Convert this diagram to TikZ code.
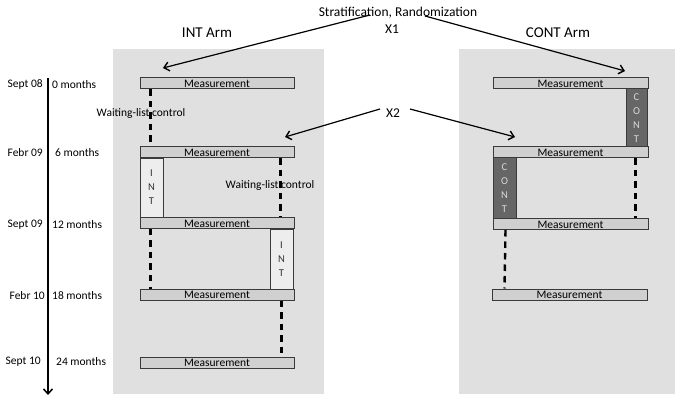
\documentclass[tikz,border=0pt]{standalone}
\usepackage{fontspec}
\setmainfont{Carlito}
\usetikzlibrary{arrows.meta}
\definecolor{panel}{HTML}{E0E0E0}
\definecolor{barfill}{HTML}{D0D0D0}
\definecolor{barline}{HTML}{3A3A3A}
\definecolor{intfill}{HTML}{EDEDED}
\definecolor{contfill}{HTML}{666666}
\tikzset{
  panelbox/.style={fill=panel, draw=none},
  meas/.style={draw=barline, fill=barfill, line width=1pt, minimum height=11pt, inner sep=0pt, text height=8.5pt, text depth=0pt, font=\fontsize{11.5}{11}\selectfont},
  intbox/.style={draw=barline, fill=intfill, line width=0.8pt, inner sep=0pt, align=center, font=\fontsize{10.5}{14}\selectfont, text=black!80},
  contbox/.style={draw=barline, fill=contfill, line width=1pt, inner sep=0pt, align=center, font=\fontsize{10.5}{14}\selectfont, text=white!85!black},
  wl/.style={line width=2.4pt, dash pattern=on 6.5pt off 5pt},
  lbl/.style={inner sep=0pt, font=\fontsize{11.5}{12}\selectfont},
  ttl/.style={inner sep=0pt, font=\fontsize{15}{16}\selectfont},
  rnd/.style={inner sep=0pt, font=\fontsize{13.5}{14}\selectfont},
  arr/.style={line width=1.2pt, -{Straight Barb[length=5pt,width=9pt,line width=1.4pt]}},
}
\begin{document}
\begin{tikzpicture}[x=1pt,y=-1pt]
\useasboundingbox (0,0) rectangle (685,403);
\fill[white] (0,0) rectangle (685,403);
% panels
\node[panelbox, minimum width=211pt, minimum height=345pt, inner sep=0pt] (PL) at (218.5,221.5) {};
\node[panelbox, minimum width=216pt, minimum height=345pt, inner sep=0pt] (PR) at (567,221.5) {};
% titles
\node[ttl] (tINT) at (207,33) {INT Arm};
\node[ttl] (tCONT) at (558,33) {CONT Arm};
\node[rnd] (strat) at (398,13) {Stratification, Randomization};
\node[rnd] (X1) at (392,29) {X1};
\node[rnd] (X2) at (393,113) {X2};
% left bars
\node[meas, minimum width=154pt] (L1) at (217,83.5) {Measurement};
\node[meas, minimum width=154pt] (L2) at (217,152.5) {Measurement};
\node[meas, minimum width=154pt] (L3) at (217,223) {Measurement};
\node[meas, minimum width=154pt] (L4) at (217,294.5) {Measurement};
\node[meas, minimum width=154pt] (L5) at (217,362.5) {Measurement};
% right bars
\node[meas, minimum width=155pt] (R1) at (570.5,83.5) {Measurement};
\node[meas, minimum width=155pt] (R2) at (570.5,152.5) {Measurement};
\node[meas, minimum width=155pt] (R3) at (570.5,224) {Measurement};
\node[meas, minimum width=155pt] (R4) at (569.5,294.5) {Measurement};
% INT boxes
\node[intbox, minimum width=23pt, minimum height=59pt] (I1) at (151.5,187.5) {I\\N\\T};
\node[intbox, minimum width=23pt, minimum height=60pt] (I2) at (281.5,259) {I\\N\\T};
% CONT boxes
\node[contbox, minimum width=21pt, minimum height=58pt] (C1) at (636.5,118) {C\\O\\N\\T};
\node[contbox, minimum width=23pt, minimum height=61pt] (C2) at (504.5,188.5) {C\\O\\N\\T};
% waiting list dashed lines
\draw[wl] ([xshift=11pt]L1.south west) -- ([xshift=11pt]L2.north west);
\draw[wl] ([xshift=-14pt]L2.south east) -- ([xshift=-14pt]L3.north east);
\draw[wl] ([xshift=11pt]L3.south west) -- ([xshift=11pt]L4.north west);
\draw[wl] ([xshift=-13pt]L4.south east) -- ([xshift=-13pt]L5.north east);
\draw[wl] ([xshift=-13pt]R2.south east) -- ([xshift=-13pt]R3.north east);
\draw[wl] ([xshift=13pt]R3.south west) -- ([xshift=13pt]R4.north west);
\node[lbl] (wl1) at (141,113) {Waiting-list control};
\node[lbl] (wl2) at (270,185) {Waiting-list control};
% randomization arrows
\coordinate (a1) at (163,68);
\coordinate (a2) at (625,71);
\coordinate (a3) at (285,137);
\coordinate (a4) at (515,137);
\draw[arr] ([xshift=-22pt,yshift=14pt]X1.center) -- (a1);
\draw[arr] ([xshift=33pt,yshift=13pt]X1.center) -- (a2);
\draw[arr] ([xshift=-13pt,yshift=4pt]X2.center) -- (a3);
\draw[arr] ([xshift=17pt,yshift=4pt]X2.center) -- (a4);
% timeline
\coordinate (t0) at (48,78);
\coordinate (t1) at (48,395);
\draw[line width=1.4pt, -{Straight Barb[length=5pt,width=9pt,line width=1.5pt]}] (t0) -- (t1);
\node[lbl, anchor=east] (d1) at (43,85) {Sept 08};
\node[lbl, anchor=east] (d2) at (43,153) {Febr 09};
\node[lbl, anchor=east] (d3) at (43,225) {Sept 09};
\node[lbl, anchor=east] (d4) at (45,296) {Febr 10};
\node[lbl, anchor=east] (d5) at (41,362) {Sept 10};
\node[lbl, anchor=west] (m1) at (52,85) {0 months};
\node[lbl, anchor=west] (m2) at (55,153) {6 months};
\node[lbl, anchor=west] (m3) at (52,225) {12 months};
\node[lbl, anchor=west] (m4) at (52,296) {18 months};
\node[lbl, anchor=west] (m5) at (56,362) {24 months};
\end{tikzpicture}
\end{document}
